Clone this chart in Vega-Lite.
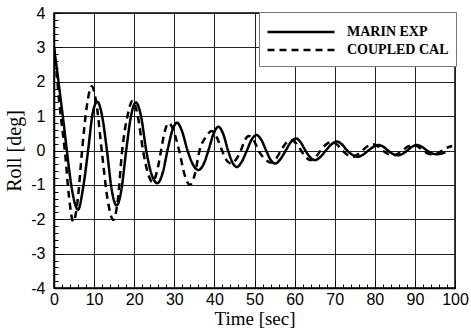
{
  "$schema": "https://vega.github.io/schema/vega-lite/v6.json",
  "width": 401,
  "height": 275,
  "autosize": {"type": "none"},
  "padding": {"left": 54, "top": 13, "right": 16, "bottom": 41},
  "background": "white",
  "config": {
    "view": {"stroke": "black", "strokeWidth": 1.5},
    "axis": {
      "labelFont": "Liberation Sans",
      "labelFontSize": 16,
      "labelColor": "black",
      "titleFont": "Liberation Serif",
      "titleFontSize": 20,
      "titleFontWeight": "normal",
      "titleColor": "black",
      "domainColor": "black",
      "domainWidth": 1.5,
      "tickColor": "black",
      "tickWidth": 1,
      "gridWidth": 1
    }
  },
  "data": {
    "values": [
      {"t": 0, "v": 3.0, "series": "MARIN EXP"},
      {"t": 0.8, "v": 2.3, "series": "MARIN EXP"},
      {"t": 1.6, "v": 1.55, "series": "MARIN EXP"},
      {"t": 2.4, "v": 0.8, "series": "MARIN EXP"},
      {"t": 3.2, "v": 0, "series": "MARIN EXP"},
      {"t": 4.5, "v": -1.15, "series": "MARIN EXP"},
      {"t": 6.0, "v": -1.72, "series": "MARIN EXP"},
      {"t": 7.3, "v": -1.05, "series": "MARIN EXP"},
      {"t": 8.5, "v": 0, "series": "MARIN EXP"},
      {"t": 9.6, "v": 1.05, "series": "MARIN EXP"},
      {"t": 10.8, "v": 1.42, "series": "MARIN EXP"},
      {"t": 12.0, "v": 1.0, "series": "MARIN EXP"},
      {"t": 13.2, "v": 0, "series": "MARIN EXP"},
      {"t": 14.4, "v": -1.15, "series": "MARIN EXP"},
      {"t": 15.6, "v": -1.6, "series": "MARIN EXP"},
      {"t": 16.8, "v": -1.15, "series": "MARIN EXP"},
      {"t": 18.0, "v": 0, "series": "MARIN EXP"},
      {"t": 19.2, "v": 1.0, "series": "MARIN EXP"},
      {"t": 20.4, "v": 1.4, "series": "MARIN EXP"},
      {"t": 21.7, "v": 1.0, "series": "MARIN EXP"},
      {"t": 23.0, "v": 0, "series": "MARIN EXP"},
      {"t": 24.3, "v": -0.68, "series": "MARIN EXP"},
      {"t": 25.8, "v": -0.95, "series": "MARIN EXP"},
      {"t": 27.1, "v": -0.65, "series": "MARIN EXP"},
      {"t": 28.3, "v": 0, "series": "MARIN EXP"},
      {"t": 29.5, "v": 0.58, "series": "MARIN EXP"},
      {"t": 30.7, "v": 0.81, "series": "MARIN EXP"},
      {"t": 31.9, "v": 0.57, "series": "MARIN EXP"},
      {"t": 33.3, "v": 0, "series": "MARIN EXP"},
      {"t": 34.7, "v": -0.42, "series": "MARIN EXP"},
      {"t": 36.0, "v": -0.57, "series": "MARIN EXP"},
      {"t": 37.3, "v": -0.4, "series": "MARIN EXP"},
      {"t": 38.5, "v": 0, "series": "MARIN EXP"},
      {"t": 39.8, "v": 0.49, "series": "MARIN EXP"},
      {"t": 41.0, "v": 0.69, "series": "MARIN EXP"},
      {"t": 42.2, "v": 0.48, "series": "MARIN EXP"},
      {"t": 43.4, "v": 0, "series": "MARIN EXP"},
      {"t": 44.5, "v": -0.35, "series": "MARIN EXP"},
      {"t": 45.6, "v": -0.48, "series": "MARIN EXP"},
      {"t": 46.8, "v": -0.33, "series": "MARIN EXP"},
      {"t": 48.1, "v": 0, "series": "MARIN EXP"},
      {"t": 49.3, "v": 0.32, "series": "MARIN EXP"},
      {"t": 50.5, "v": 0.45, "series": "MARIN EXP"},
      {"t": 51.7, "v": 0.31, "series": "MARIN EXP"},
      {"t": 52.9, "v": 0, "series": "MARIN EXP"},
      {"t": 54.0, "v": -0.27, "series": "MARIN EXP"},
      {"t": 55.2, "v": -0.38, "series": "MARIN EXP"},
      {"t": 56.4, "v": -0.26, "series": "MARIN EXP"},
      {"t": 57.8, "v": 0, "series": "MARIN EXP"},
      {"t": 59.1, "v": 0.25, "series": "MARIN EXP"},
      {"t": 60.3, "v": 0.35, "series": "MARIN EXP"},
      {"t": 61.5, "v": 0.24, "series": "MARIN EXP"},
      {"t": 62.7, "v": 0, "series": "MARIN EXP"},
      {"t": 63.9, "v": -0.2, "series": "MARIN EXP"},
      {"t": 65.1, "v": -0.28, "series": "MARIN EXP"},
      {"t": 66.4, "v": -0.19, "series": "MARIN EXP"},
      {"t": 67.8, "v": 0, "series": "MARIN EXP"},
      {"t": 69.2, "v": 0.18, "series": "MARIN EXP"},
      {"t": 70.5, "v": 0.26, "series": "MARIN EXP"},
      {"t": 71.8, "v": 0.18, "series": "MARIN EXP"},
      {"t": 73.1, "v": 0, "series": "MARIN EXP"},
      {"t": 74.5, "v": -0.13, "series": "MARIN EXP"},
      {"t": 75.8, "v": -0.18, "series": "MARIN EXP"},
      {"t": 77.1, "v": -0.12, "series": "MARIN EXP"},
      {"t": 78.4, "v": 0, "series": "MARIN EXP"},
      {"t": 79.7, "v": 0.11, "series": "MARIN EXP"},
      {"t": 80.9, "v": 0.16, "series": "MARIN EXP"},
      {"t": 82.1, "v": 0.11, "series": "MARIN EXP"},
      {"t": 83.3, "v": 0, "series": "MARIN EXP"},
      {"t": 84.5, "v": -0.1, "series": "MARIN EXP"},
      {"t": 85.7, "v": -0.14, "series": "MARIN EXP"},
      {"t": 86.9, "v": -0.1, "series": "MARIN EXP"},
      {"t": 88.1, "v": 0, "series": "MARIN EXP"},
      {"t": 89.3, "v": 0.11, "series": "MARIN EXP"},
      {"t": 90.5, "v": 0.16, "series": "MARIN EXP"},
      {"t": 91.7, "v": 0.11, "series": "MARIN EXP"},
      {"t": 93.0, "v": 0, "series": "MARIN EXP"},
      {"t": 94.2, "v": -0.08, "series": "MARIN EXP"},
      {"t": 95.4, "v": -0.11, "series": "MARIN EXP"},
      {"t": 96.6, "v": -0.09, "series": "MARIN EXP"},
      {"t": 97.6, "v": -0.05, "series": "MARIN EXP"},
      {"t": 0, "v": 3.0, "series": "COUPLED CAL"},
      {"t": 0.7, "v": 2.2, "series": "COUPLED CAL"},
      {"t": 1.4, "v": 1.3, "series": "COUPLED CAL"},
      {"t": 2.1, "v": 0.6, "series": "COUPLED CAL"},
      {"t": 2.7, "v": 0, "series": "COUPLED CAL"},
      {"t": 3.7, "v": -1.3, "series": "COUPLED CAL"},
      {"t": 4.8, "v": -2.07, "series": "COUPLED CAL"},
      {"t": 5.9, "v": -1.45, "series": "COUPLED CAL"},
      {"t": 7.0, "v": 0, "series": "COUPLED CAL"},
      {"t": 8.2, "v": 1.3, "series": "COUPLED CAL"},
      {"t": 9.4, "v": 1.87, "series": "COUPLED CAL"},
      {"t": 10.6, "v": 1.35, "series": "COUPLED CAL"},
      {"t": 11.9, "v": 0, "series": "COUPLED CAL"},
      {"t": 13.4, "v": -1.45, "series": "COUPLED CAL"},
      {"t": 14.8, "v": -2.02, "series": "COUPLED CAL"},
      {"t": 15.9, "v": -1.45, "series": "COUPLED CAL"},
      {"t": 17.0, "v": 0, "series": "COUPLED CAL"},
      {"t": 18.4, "v": 1.05, "series": "COUPLED CAL"},
      {"t": 19.6, "v": 1.45, "series": "COUPLED CAL"},
      {"t": 20.9, "v": 1.0, "series": "COUPLED CAL"},
      {"t": 22.2, "v": 0, "series": "COUPLED CAL"},
      {"t": 23.4, "v": -0.65, "series": "COUPLED CAL"},
      {"t": 24.6, "v": -0.92, "series": "COUPLED CAL"},
      {"t": 25.7, "v": -0.6, "series": "COUPLED CAL"},
      {"t": 26.7, "v": 0, "series": "COUPLED CAL"},
      {"t": 27.6, "v": 0.55, "series": "COUPLED CAL"},
      {"t": 28.6, "v": 0.8, "series": "COUPLED CAL"},
      {"t": 29.9, "v": 0.55, "series": "COUPLED CAL"},
      {"t": 31.2, "v": 0, "series": "COUPLED CAL"},
      {"t": 32.6, "v": -0.72, "series": "COUPLED CAL"},
      {"t": 33.9, "v": -1.0, "series": "COUPLED CAL"},
      {"t": 35.1, "v": -0.7, "series": "COUPLED CAL"},
      {"t": 36.3, "v": 0, "series": "COUPLED CAL"},
      {"t": 37.9, "v": 0.4, "series": "COUPLED CAL"},
      {"t": 39.3, "v": 0.57, "series": "COUPLED CAL"},
      {"t": 40.6, "v": 0.38, "series": "COUPLED CAL"},
      {"t": 41.9, "v": 0, "series": "COUPLED CAL"},
      {"t": 43.0, "v": -0.28, "series": "COUPLED CAL"},
      {"t": 44.2, "v": -0.38, "series": "COUPLED CAL"},
      {"t": 45.4, "v": -0.26, "series": "COUPLED CAL"},
      {"t": 46.6, "v": 0, "series": "COUPLED CAL"},
      {"t": 47.6, "v": 0.3, "series": "COUPLED CAL"},
      {"t": 48.6, "v": 0.42, "series": "COUPLED CAL"},
      {"t": 49.8, "v": 0.3, "series": "COUPLED CAL"},
      {"t": 51.0, "v": 0, "series": "COUPLED CAL"},
      {"t": 52.6, "v": -0.25, "series": "COUPLED CAL"},
      {"t": 54.0, "v": -0.35, "series": "COUPLED CAL"},
      {"t": 55.3, "v": -0.25, "series": "COUPLED CAL"},
      {"t": 56.6, "v": 0, "series": "COUPLED CAL"},
      {"t": 57.9, "v": 0.22, "series": "COUPLED CAL"},
      {"t": 59.2, "v": 0.3, "series": "COUPLED CAL"},
      {"t": 60.4, "v": 0.21, "series": "COUPLED CAL"},
      {"t": 61.6, "v": 0, "series": "COUPLED CAL"},
      {"t": 62.8, "v": -0.2, "series": "COUPLED CAL"},
      {"t": 64.0, "v": -0.28, "series": "COUPLED CAL"},
      {"t": 65.2, "v": -0.2, "series": "COUPLED CAL"},
      {"t": 66.5, "v": 0, "series": "COUPLED CAL"},
      {"t": 67.9, "v": 0.18, "series": "COUPLED CAL"},
      {"t": 69.3, "v": 0.25, "series": "COUPLED CAL"},
      {"t": 70.6, "v": 0.17, "series": "COUPLED CAL"},
      {"t": 71.9, "v": 0, "series": "COUPLED CAL"},
      {"t": 73.2, "v": -0.13, "series": "COUPLED CAL"},
      {"t": 74.5, "v": -0.18, "series": "COUPLED CAL"},
      {"t": 75.7, "v": -0.12, "series": "COUPLED CAL"},
      {"t": 76.9, "v": 0, "series": "COUPLED CAL"},
      {"t": 78.3, "v": 0.13, "series": "COUPLED CAL"},
      {"t": 79.6, "v": 0.18, "series": "COUPLED CAL"},
      {"t": 80.8, "v": 0.12, "series": "COUPLED CAL"},
      {"t": 82.0, "v": 0, "series": "COUPLED CAL"},
      {"t": 83.3, "v": -0.1, "series": "COUPLED CAL"},
      {"t": 84.5, "v": -0.14, "series": "COUPLED CAL"},
      {"t": 85.7, "v": -0.1, "series": "COUPLED CAL"},
      {"t": 86.9, "v": 0, "series": "COUPLED CAL"},
      {"t": 88.2, "v": 0.11, "series": "COUPLED CAL"},
      {"t": 89.5, "v": 0.16, "series": "COUPLED CAL"},
      {"t": 90.8, "v": 0.11, "series": "COUPLED CAL"},
      {"t": 92.0, "v": 0, "series": "COUPLED CAL"},
      {"t": 93.3, "v": -0.09, "series": "COUPLED CAL"},
      {"t": 94.5, "v": -0.12, "series": "COUPLED CAL"},
      {"t": 95.7, "v": -0.08, "series": "COUPLED CAL"},
      {"t": 96.9, "v": 0, "series": "COUPLED CAL"},
      {"t": 98.2, "v": 0.09, "series": "COUPLED CAL"},
      {"t": 99.3, "v": 0.13, "series": "COUPLED CAL"}
    ]
  },
  "mark": {"type": "line", "interpolate": "monotone", "strokeWidth": 2.5, "color": "black", "clip": true},
  "encoding": {
    "x": {
      "field": "t",
      "type": "quantitative",
      "scale": {"domain": [0, 100], "nice": false, "zero": false},
      "axis": {
        "title": "Time [sec]",
        "titleFontSize": 19,
        "titlePadding": -2,
        "values": [0, 2, 4, 6, 8, 10, 12, 14, 16, 18, 20, 22, 24, 26, 28, 30, 32, 34, 36, 38, 40, 42, 44, 46, 48, 50, 52, 54, 56, 58, 60, 62, 64, 66, 68, 70, 72, 74, 76, 78, 80, 82, 84, 86, 88, 90, 92, 94, 96, 98, 100],
        "labelExpr": "datum.value % 10 === 0 ? '' + round(datum.value) : ''",
        "labelPadding": 11,
        "labelFlush": false,
        "labelOverlap": false,
        "grid": true,
        "gridColor": {"condition": {"test": "datum.value % 10 === 0", "value": "#222222"}, "value": "transparent"},
        "tickSize": {"condition": {"test": "datum.value % 10 === 0", "value": -8}, "value": -4}
      }
    },
    "y": {
      "field": "v",
      "type": "quantitative",
      "scale": {"domain": [-4, 4], "nice": false, "zero": false},
      "axis": {
        "title": "Roll [deg]",
        "titlePadding": 6,
        "values": [-4, -3.8, -3.6, -3.4, -3.2, -3, -2.8, -2.6, -2.4, -2.2, -2, -1.8, -1.6, -1.4, -1.2, -1, -0.8, -0.6, -0.4, -0.2, 0, 0.2, 0.4, 0.6, 0.8, 1, 1.2, 1.4, 1.6, 1.8, 2, 2.2, 2.4, 2.6, 2.8, 3, 3.2, 3.4, 3.6, 3.8, 4],
        "labelExpr": "abs(datum.value - round(datum.value)) < 0.001 ? '' + round(datum.value) : ''",
        "labelPadding": 17,
        "labelFlush": false,
        "labelOverlap": false,
        "grid": true,
        "gridColor": {"condition": {"test": "abs(datum.value - round(datum.value)) < 0.001", "value": "#222222"}, "value": "transparent"},
        "tickSize": {"condition": {"test": "abs(datum.value - round(datum.value)) < 0.001", "value": -8}, "value": -4}
      }
    },
    "strokeDash": {
      "field": "series",
      "type": "nominal",
      "scale": {"domain": ["MARIN EXP", "COUPLED CAL"], "range": [[1, 0], [7, 5]]},
      "legend": {
        "orient": "none",
        "legendX": 205,
        "legendY": -1,
        "title": " ",
        "titleFontSize": 4,
        "titlePadding": 0,
        "fillColor": "white",
        "strokeColor": "#777777",
        "padding": 7,
        "symbolType": "stroke",
        "symbolSize": 4489,
        "symbolStrokeWidth": 2.5,
        "symbolStrokeColor": "black",
        "labelFont": "Liberation Serif",
        "labelFontWeight": "bold",
        "labelFontSize": 14,
        "labelColor": "black",
        "labelOffset": 11,
        "rowPadding": 0,
        "clipHeight": 18
      }
    }
  }
}
